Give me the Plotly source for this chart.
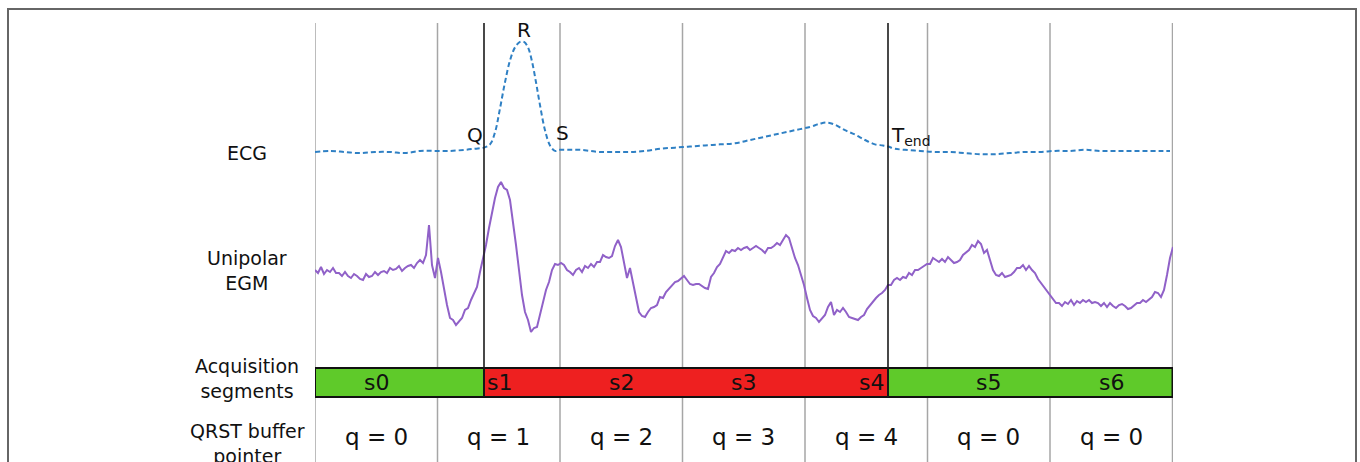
import numpy as np
import plotly.graph_objects as go

# ---------------- data ----------------
# segment boundaries (ms)
seg_edges = [0, 245, 490, 735, 980, 1225, 1470, 1715]
q_time = 338      # Q onset (ms)
tend_time = 1146  # T end (ms)
seg_labels = ["s0", "s1", "s2", "s3", "s4", "s5", "s6"]
q_labels = ["q = 0", "q = 1", "q = 2", "q = 3", "q = 4", "q = 0", "q = 0"]

# ECG (mV) sampled at irregular times (ms)
ecg_t = [0, 30, 60, 90, 120, 150, 180, 210, 240, 270, 300, 320, 338, 350, 360, 370,
         380, 390, 400, 410, 418, 426, 434, 442, 450, 460, 470, 480, 490, 510, 530,
         550, 570, 600, 630, 660, 690, 720, 750, 780, 810, 840, 870, 900, 930, 960,
         990, 1010, 1024, 1040, 1060, 1080, 1100, 1120, 1136, 1146, 1160, 1180, 1210,
         1240, 1270, 1300, 1330, 1360, 1390, 1420, 1450, 1480, 1510, 1540, 1570, 1600,
         1630, 1660, 1690, 1710]
ecg_mv = [0.00, 0.01, 0.00, -0.01, 0.00, 0.00, -0.01, 0.01, 0.01, 0.01, 0.02, 0.03,
          0.04, 0.07, 0.18, 0.40, 0.64, 0.84, 0.96, 1.01, 1.01, 0.96, 0.83, 0.64, 0.43,
          0.20, 0.06, 0.01, 0.02, 0.02, 0.02, 0.01, 0.00, 0.00, 0.00, 0.01, 0.03, 0.04,
          0.05, 0.06, 0.07, 0.08, 0.11, 0.14, 0.17, 0.20, 0.23, 0.26, 0.27, 0.25, 0.20,
          0.16, 0.11, 0.07, 0.06, 0.05, 0.03, 0.02, 0.01, 0.00, 0.00, -0.01, -0.02,
          -0.02, -0.01, 0.00, 0.00, 0.01, 0.01, 0.02, 0.01, 0.01, 0.01, 0.01, 0.01, 0.01]

# Unipolar EGM (mV), uniformly sampled every 6 ms
egm_dt = 6
egm_mv = [
    0.10, 0.04, 0.16, 0.02, 0.10, 0.06, 0.14, 0.04, 0.04, -0.02, 0.06, -0.02, -0.06, 0.02,
    -0.02, -0.08, -0.10, 0.02, -0.04, -0.02, 0.06, 0.00, 0.06, 0.08, 0.04, 0.14, 0.10, 0.12,
    0.18, 0.08, 0.14, 0.18, 0.20, 0.14, 0.24, 0.30, 0.24, 0.40, 1.00, 0.20, -0.06, 0.34,
    0.06, -0.30, -0.60, -0.86, -0.90, -1.00, -0.92, -0.86, -0.70, -0.66, -0.50, -0.36, -0.24,
    0.06, 0.30, 0.60, 0.94, 1.26, 1.54, 1.76, 1.86, 1.74, 1.70, 1.50, 1.10, 0.60, 0.10,
    -0.40, -0.74, -0.90, -1.14, -1.06, -1.04, -0.80, -0.60, -0.30, -0.14, 0.10, 0.22, 0.20, 0.24,
    0.20, 0.10, 0.06, 0.00, 0.10, 0.14, 0.06, 0.18, 0.14, 0.22, 0.16, 0.26, 0.26, 0.40,
    0.36, 0.34, 0.38, 0.58, 0.70, 0.56, 0.26, -0.06, 0.14, -0.14, -0.46, -0.74, -0.82, -0.84,
    -0.74, -0.66, -0.64, -0.60, -0.44, -0.46, -0.34, -0.28, -0.22, -0.14, -0.12, -0.06, -0.02,
    -0.10, -0.18, -0.20, -0.18, -0.18, -0.22, -0.26, -0.28, -0.04, 0.04, 0.16, 0.22, 0.36,
    0.48, 0.44, 0.50, 0.48, 0.54, 0.50, 0.54, 0.56, 0.50, 0.54, 0.58, 0.54, 0.50, 0.44,
    0.54, 0.54, 0.58, 0.64, 0.60, 0.70, 0.80, 0.74, 0.54, 0.34, 0.20, 0.00, -0.20, -0.46,
    -0.70, -0.82, -0.86, -0.94, -0.86, -0.80, -0.64, -0.54, -0.80, -0.70, -0.74, -0.66, -0.74,
    -0.84, -0.86, -0.88, -0.90, -0.84, -0.80, -0.68, -0.60, -0.54, -0.46, -0.40, -0.36, -0.30,
    -0.20, -0.20, -0.10, -0.06, -0.10, -0.04, -0.06, 0.04, 0.00, 0.10, 0.10, 0.14, 0.18,
    0.22, 0.22,
    0.34, 0.30, 0.26, 0.32, 0.26, 0.36, 0.30, 0.24, 0.26, 0.30, 0.40, 0.46, 0.50, 0.60,
    0.56, 0.68, 0.62, 0.44, 0.50, 0.30, 0.10, 0.00, -0.02, 0.04, -0.04, -0.02, 0.00, 0.06,
    0.14, 0.14, 0.20, 0.10, 0.18, 0.10, 0.04, -0.08, -0.16, -0.24, -0.30, -0.40, -0.48,
    -0.56, -0.56, -0.62, -0.54, -0.58, -0.50, -0.60, -0.52, -0.56, -0.50, -0.54, -0.50, -0.56,
    -0.54, -0.56, -0.62, -0.56, -0.64, -0.56, -0.62, -0.66, -0.60, -0.58, -0.62, -0.68, -0.66,
    -0.60, -0.56, -0.56, -0.50, -0.54, -0.48, -0.44, -0.34, -0.36, -0.44, -0.30, 0.00, 0.34,
    0.56,
]
egm_t = np.arange(len(egm_mv)) * egm_dt

# ---------------- styling ----------------
W, H = 1360, 462
FONT = "DejaVu Sans"
ECG_COLOR = "#2f80c4"
EGM_COLOR = "#9061c8"
GREEN = "#5fca2a"
RED = "#ee2020"
GRID = "#a6a6a6"


def py(v):
    """pixel row -> paper y"""
    return 1 - v / H


fig = go.Figure()
fig.add_trace(go.Scatter(x=ecg_t, y=ecg_mv, mode="lines", yaxis="y",
                         line=dict(color=ECG_COLOR, width=2, dash="5px,3px"),
                         line_shape="spline", hoverinfo="skip", showlegend=False))
fig.add_trace(go.Scatter(x=egm_t, y=egm_mv, mode="lines", yaxis="y2",
                         line=dict(color=EGM_COLOR, width=2),
                         hoverinfo="skip", showlegend=False))

shapes = []
# outer frame
shapes.append(dict(type="rect", xref="paper", yref="paper", x0=8 / W, x1=1356 / W,
                   y0=-0.2, y1=py(9), line=dict(color="#666666", width=2),
                   fillcolor="rgba(0,0,0,0)", layer="below"))
# gray segment lines
for e in seg_edges:
    shapes.append(dict(type="line", xref="x", yref="paper", x0=e, x1=e,
                       y0=0, y1=py(23), line=dict(color=GRID, width=1.5), layer="below"))
# acquisition bar
bar_y0, bar_y1 = py(397), py(368)
bar_parts = [(seg_edges[0], q_time, GREEN), (q_time, tend_time, RED),
             (tend_time, seg_edges[-1], GREEN)]
for a, b, c in bar_parts:
    shapes.append(dict(type="rect", xref="x", yref="paper", x0=a, x1=b,
                       y0=bar_y0, y1=bar_y1, fillcolor=c,
                       line=dict(color="#111111", width=2), layer="above"))
# black event lines
for e in (q_time, tend_time):
    shapes.append(dict(type="line", xref="x", yref="paper", x0=e, x1=e,
                       y0=bar_y0, y1=py(23), line=dict(color="#1a1a1a", width=1.6),
                       layer="above"))

ann = []
# left labels
left_x = 247 / W
for txt, yc in [("ECG", 153), ("Unipolar<br>EGM", 270), ("Acquisition<br>segments", 378),
                ("QRST buffer<br>pointer", 443)]:
    ann.append(dict(text=txt, xref="paper", yref="paper", x=left_x, y=py(yc),
                    xanchor="center", yanchor="middle", showarrow=False,
                    font=dict(family=FONT, size=19, color="#111111")))
# segment labels in bar
bar_mid = py(382)
for i, lab in enumerate(seg_labels):
    if i == 1:
        x, xa = q_time + 1, "left"
    elif i == 4:
        x, xa = tend_time - 4, "right"
    else:
        x, xa = (seg_edges[i] + seg_edges[i + 1]) / 2, "center"
    ann.append(dict(text=lab, xref="x", yref="paper", x=x, y=bar_mid, xanchor=xa,
                    yanchor="middle", showarrow=False,
                    font=dict(family=FONT, size=22, color="#111111")))
# q labels
for i, lab in enumerate(q_labels):
    ann.append(dict(text=lab, xref="x", yref="paper",
                    x=(seg_edges[i] + seg_edges[i + 1]) / 2, y=py(437),
                    xanchor="center", yanchor="middle", showarrow=False,
                    font=dict(family=FONT, size=23, color="#111111")))
# wave labels
wave_font = dict(family=FONT, size=20, color="#111111")
ann.append(dict(text="R", xref="x", yref="y", x=418, y=1.12, xanchor="center",
                yanchor="middle", showarrow=False, font=wave_font))
ann.append(dict(text="Q", xref="x", yref="y", x=q_time + 2, y=0.16, xanchor="right",
                yanchor="middle", showarrow=False, font=wave_font))
ann.append(dict(text="S", xref="x", yref="y", x=478, y=0.17, xanchor="left",
                yanchor="middle", showarrow=False, font=wave_font))
ann.append(dict(text="T<sub>end</sub>", xref="x", yref="y", x=tend_time + 2, y=0.15,
                xanchor="left", yanchor="middle", showarrow=False, font=wave_font))

fig.update_layout(
    width=W, height=H, margin=dict(l=0, r=0, t=0, b=0),
    paper_bgcolor="white", plot_bgcolor="rgba(0,0,0,0)",
    xaxis=dict(range=[0, 1716], domain=[315 / W, 1173 / W], visible=False, fixedrange=True),
    yaxis=dict(range=[-0.2, 1.25], domain=[py(173.8), py(15.75)], visible=False),
    yaxis2=dict(range=[-1.4, 2.0], domain=[py(345), py(175)], visible=False),
    shapes=shapes, annotations=ann, showlegend=False,
)

fig.write_html("out.html", config={"displayModeBar": False},
               post_script="document.body.style.margin='0';document.body.style.overflow='hidden';")
